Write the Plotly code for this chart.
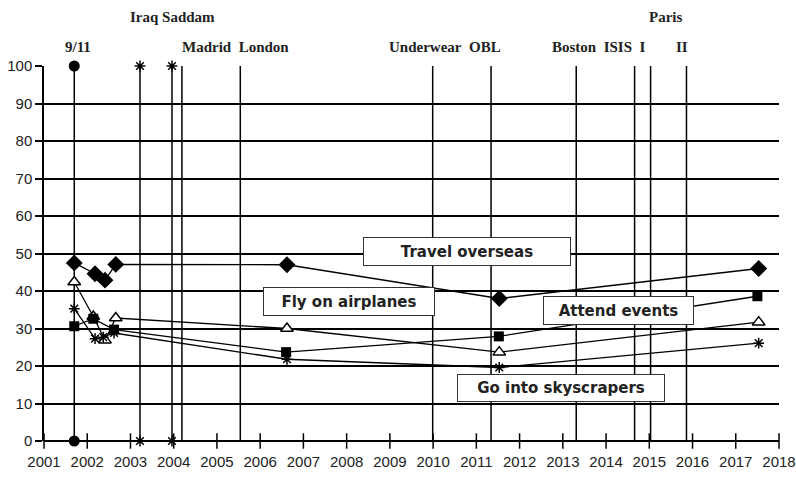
import plotly.graph_objects as go

# ---- data ----
years = list(range(2001, 2019))
y_ticks = list(range(0, 101, 10))

event_dates = [2001.70, 2003.22, 2003.96, 2004.19, 2005.54, 2009.99, 2011.34,
               2013.31, 2014.66, 2015.03, 2015.86]

travel_x = [2001.70, 2002.18, 2002.41, 2002.66, 2006.62, 2011.53, 2017.53]
travel_y = [47.5, 44.6, 42.9, 47.1, 47.0, 38.0, 46.0]

attend_x = [2001.70, 2002.14, 2002.62, 2006.60, 2011.52, 2017.50]
attend_y = [30.6, 32.6, 29.7, 23.7, 27.9, 38.6]

fly_x = [2001.70, 2002.14, 2002.41, 2002.66, 2006.62, 2011.53, 2017.53]
fly_y = [42.4, 33.2, 26.9, 32.8, 30.0, 23.7, 31.7]

sky_x = [2001.70, 2002.18, 2002.37, 2002.62, 2006.62, 2011.53, 2017.53]
sky_y = [35.3, 27.3, 27.7, 28.8, 21.8, 19.6, 26.1]

nine11_x = [2001.70, 2001.70]
nine11_y = [0, 100]
iraq_saddam_x = [2003.22, 2003.22, 2003.96, 2003.96]
iraq_saddam_y = [0, 100, 0, 100]

# ---- figure ----
fig = go.Figure()

# vertical event lines
ex, ey = [], []
for d in event_dates:
    ex += [d, d, None]
    ey += [0, 100, None]
fig.add_trace(go.Scatter(x=ex, y=ey, mode="lines",
                         line=dict(color="black", width=1.5),
                         hoverinfo="skip", showlegend=False))

# x tick marks crossing the axis
fig.add_trace(go.Scatter(x=years, y=[0] * len(years), mode="markers",
                         marker=dict(symbol="line-ns", size=11,
                                     line=dict(color="black", width=1.5)),
                         cliponaxis=False, hoverinfo="skip", showlegend=False))

fig.add_trace(go.Scatter(x=nine11_x, y=nine11_y, mode="markers",
                         marker=dict(symbol="circle", size=11, color="black"),
                         cliponaxis=False, showlegend=False))
fig.add_trace(go.Scatter(x=iraq_saddam_x, y=iraq_saddam_y, mode="markers",
                         marker=dict(symbol="asterisk", size=9,
                                     line=dict(color="black", width=1.5)),
                         cliponaxis=False, showlegend=False))

fig.add_trace(go.Scatter(x=travel_x, y=travel_y, mode="lines+markers",
                         name="Travel overseas",
                         line=dict(color="black", width=1.3),
                         marker=dict(symbol="diamond", size=13, color="black"),
                         showlegend=False))
fig.add_trace(go.Scatter(x=fly_x, y=fly_y, mode="lines+markers",
                         name="Fly on airplanes",
                         line=dict(color="black", width=1.3),
                         marker=dict(symbol="triangle-up", size=11, color="white",
                                     line=dict(color="black", width=1.5)),
                         showlegend=False))
fig.add_trace(go.Scatter(x=sky_x, y=sky_y, mode="lines+markers",
                         name="Go into skyscrapers",
                         line=dict(color="black", width=1.3),
                         marker=dict(symbol="asterisk", size=9,
                                     line=dict(color="black", width=1.5)),
                         showlegend=False))
fig.add_trace(go.Scatter(x=attend_x, y=attend_y, mode="lines+markers",
                         name="Attend events",
                         line=dict(color="black", width=1.3),
                         marker=dict(symbol="square", size=10, color="black"),
                         showlegend=False))

serif = dict(family="Liberation Serif, Times New Roman, serif", size=15,
             color="#222", weight="bold")
def ev_label(text, x, row):
    y = 1.05 if row == 2 else 1.13
    fig.add_annotation(x=x, y=y, xref="x", yref="paper", text=text,
                       showarrow=False, font=serif, xanchor="center",
                       yanchor="middle")

ev_label("9/11", 2001.79, 2)
ev_label("Iraq Saddam", 2003.97, 1)
ev_label("Madrid&nbsp;&nbsp;London", 2005.42, 2)
ev_label("Underwear&nbsp;&nbsp;OBL", 2010.28, 2)
ev_label("Boston&nbsp;&nbsp;ISIS&nbsp;&nbsp;I", 2013.84, 2)
ev_label("II", 2015.76, 2)
ev_label("Paris", 2015.38, 1)

box_font = dict(family="DejaVu Sans, Arial, sans-serif", size=15, color="#222",
                weight="bold")
def box_label(text, x, y, w, h):
    fig.add_annotation(x=x, y=y, xref="x", yref="y", text=text,
                       showarrow=False, font=box_font, bgcolor="white",
                       bordercolor="#333", borderwidth=1, borderpad=0,
                       width=w, height=h, xanchor="center", yanchor="middle")

box_label("Travel overseas", 2010.79, 50.6, 206, 27)
box_label("Fly on airplanes", 2008.06, 37.2, 170, 27)
box_label("Attend events", 2014.29, 34.9, 149, 27)
box_label("Go into skyscrapers", 2012.96, 14.2, 206, 26)

tick_font = dict(family="Liberation Sans, Arial, sans-serif",
                 size=15, color="#222")

fig.update_layout(
    width=796, height=479,
    margin=dict(l=44, r=17, t=66, b=38),
    paper_bgcolor="white", plot_bgcolor="white",
    xaxis=dict(range=[2001, 2018], tickvals=years, ticktext=[str(y) for y in years],
               showgrid=False, zeroline=False, showline=False, ticks="",
               tickfont=tick_font, ticklabelstandoff=10, automargin=False),
    yaxis=dict(range=[0, 100], tickvals=y_ticks, showgrid=True,
               gridcolor="black", gridwidth=1.5, zeroline=True,
               zerolinecolor="black", zerolinewidth=1.5,
               showline=True, linecolor="black", linewidth=1.5,
               ticks="outside", ticklen=7, tickcolor="black", tickwidth=1.5,
               tickfont=tick_font, automargin=False),
)

fig.write_html("out.html",
               config={"displayModeBar": False},
               post_script="document.body.style.margin='0px';"
                           "document.body.style.overflow='hidden';")
